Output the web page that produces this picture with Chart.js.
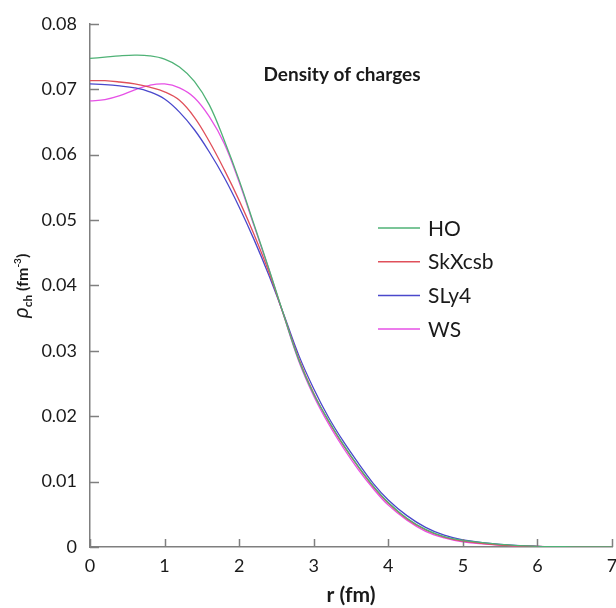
<!DOCTYPE html>
<html>
<head>
<meta charset="utf-8">
<script src="https://cdn.jsdelivr.net/npm/chart.js@4.4.1/dist/chart.umd.min.js"></script>
<style>
  html, body { margin: 0; padding: 0; background: #fff; overflow: hidden; }
  #chart { display: block; }
</style>
</head>
<body>
<canvas id="chart" width="616" height="608"></canvas>
<script>
// radius (fm)
const rValues = [0, 0.2, 0.4, 0.6, 0.8, 1.0, 1.2, 1.4, 1.6, 1.8, 2.0, 2.2, 2.4, 2.6, 2.8, 3.0,
  3.2, 3.4, 3.6, 3.8, 4.0, 4.25, 4.5, 4.75, 5.0, 5.5, 6.0, 6.5, 7.0];

// charge density (fm^-3)
const hoValues = [0.0747, 0.0749, 0.0751, 0.0752, 0.0751, 0.0746, 0.0734, 0.0712, 0.0676, 0.0622,
  0.0561, 0.0493, 0.0425, 0.0354, 0.0286, 0.0234, 0.0193, 0.0156, 0.0123, 0.0093,
  0.0068, 0.0044, 0.0027, 0.0016, 0.0010, 0.0004, 0.0001, 0.00003, 0.00001];
const skxValues = [0.0713, 0.0713, 0.0711, 0.0708, 0.0703, 0.0696, 0.0683, 0.0657, 0.0620, 0.0577,
  0.0530, 0.0478, 0.0420, 0.0354, 0.0288, 0.0235, 0.0192, 0.0155, 0.0122, 0.0092,
  0.0067, 0.0043, 0.0026, 0.0015, 0.0009, 0.0003, 0.0001, 0.00002, 0];
const slyValues = [0.0708, 0.0707, 0.0705, 0.0702, 0.0696, 0.0685, 0.0665, 0.0638, 0.0604, 0.0565,
  0.0520, 0.0470, 0.0415, 0.0355, 0.0293, 0.0242, 0.0198, 0.0161, 0.0128, 0.0097,
  0.0072, 0.0048, 0.0030, 0.0018, 0.0011, 0.0004, 0.0001, 0.00003, 0];
const wsValues = [0.0682, 0.0684, 0.0690, 0.0699, 0.0706, 0.0708, 0.0702, 0.0687, 0.0658, 0.0617,
  0.0558, 0.0491, 0.0424, 0.0353, 0.0284, 0.0231, 0.0188, 0.0151, 0.0118, 0.0089,
  0.0064, 0.0041, 0.0024, 0.0014, 0.0008, 0.0003, 0.0001, 0.00002, 0];

const seriesNames = ['HO', 'SkXcsb', 'SLy4', 'WS'];
const seriesColors = ['#4fb276', '#e0505a', '#4a48cc', '#e651e6'];
const xTicks = [0, 1, 2, 3, 4, 5, 6, 7];
const yTicks = [0, 0.01, 0.02, 0.03, 0.04, 0.05, 0.06, 0.07, 0.08];

const axisColor = '#7f7f7f';
const textColor = '#1a1a1a';
const fontFamily = 'Lato, "Open Sans", sans-serif';

function toPoints(values) {
  return rValues.map((r, i) => ({ x: r, y: values[i] }));
}

const allValues = [hoValues, skxValues, slyValues, wsValues];
const datasets = allValues.map((vals, i) => ({
  label: seriesNames[i],
  data: toPoints(vals),
  borderColor: seriesColors[i],
  borderWidth: 1.3,
  pointRadius: 0,
  fill: false,
  tension: 0.4
}));

// inward tick marks, title, legend and y axis label
const decorations = {
  id: 'decorations',
  afterDraw(chart) {
    const c = chart.ctx;
    const xs = chart.scales.x, ys = chart.scales.y;
    const area = chart.chartArea;

    c.save();
    c.strokeStyle = axisColor;
    c.lineWidth = 1.5;
    xTicks.forEach(v => {
      const px = Math.round(xs.getPixelForValue(v)) + 0.5;
      c.beginPath();
      c.moveTo(px, area.bottom);
      c.lineTo(px, area.bottom - 8);
      c.stroke();
    });
    yTicks.forEach(v => {
      const py = Math.round(ys.getPixelForValue(v)) + 0.5;
      c.beginPath();
      c.moveTo(area.left, py);
      c.lineTo(area.left + 9, py);
      c.stroke();
    });

    // title inside the plot
    c.fillStyle = textColor;
    c.font = 'bold 19px ' + fontFamily;
    c.textAlign = 'center';
    c.textBaseline = 'middle';
    c.fillText('Density of charges', 342, 75);

    // legend
    c.font = '21px ' + fontFamily;
    c.textAlign = 'left';
    chart.data.datasets.forEach((ds, i) => {
      const y = 228 + i * 33.7;
      c.strokeStyle = ds.borderColor;
      c.lineWidth = 1.5;
      c.beginPath();
      c.moveTo(378, y);
      c.lineTo(420, y);
      c.stroke();
      c.fillStyle = textColor;
      c.fillText(ds.label, 428, y + 1);
    });

    // y axis title: rho_ch (fm^-3)
    const parts = [
      { t: '\u03C1', f: 'italic 21px ' + fontFamily, dy: 0 },
      { t: 'ch', f: 'bold 12px ' + fontFamily, dy: 4 },
      { t: ' (fm', f: 'bold 16px ' + fontFamily, dy: 0 },
      { t: '-3', f: 'bold 10px ' + fontFamily, dy: -7 },
      { t: ')', f: 'bold 16px ' + fontFamily, dy: 0 }
    ];
    let total = 0;
    parts.forEach(p => { c.font = p.f; p.w = c.measureText(p.t).width; total += p.w; });
    c.translate(22, 286);
    c.rotate(-Math.PI / 2);
    c.textBaseline = 'alphabetic';
    c.fillStyle = textColor;
    let x = -total / 2;
    parts.forEach(p => {
      c.font = p.f;
      c.fillText(p.t, x, 6 + p.dy);
      x += p.w;
    });
    c.restore();
  }
};

new Chart(document.getElementById('chart'), {
  type: 'line',
  data: { datasets: datasets },
  options: {
    responsive: false,
    animation: false,
    layout: { padding: { top: 22, right: 4, left: 0, bottom: 0 } },
    plugins: {
      legend: { display: false },
      tooltip: { enabled: false }
    },
    scales: {
      x: {
        type: 'linear',
        min: 0,
        max: 7,
        afterFit(scale) { scale.height = 61; scale.paddingRight = 0; },
        ticks: {
          stepSize: 1,
          padding: 8,
          color: textColor,
          font: { family: fontFamily, size: 18 }
        },
        grid: { drawOnChartArea: false, drawTicks: false, color: axisColor },
        border: { color: axisColor, width: 1.5 },
        title: {
          display: true,
          text: 'r (fm)',
          color: textColor,
          padding: { top: 4, bottom: 0 },
          font: { family: fontFamily, size: 21, weight: 'bold' }
        }
      },
      y: {
        min: 0,
        max: 0.08,
        afterFit(scale) { scale.width = 90; },
        ticks: {
          stepSize: 0.01,
          padding: 13,
          color: textColor,
          font: { family: fontFamily, size: 18 },
          callback: v => (Math.abs(v) < 1e-9 ? '0' : v.toFixed(2))
        },
        grid: { drawOnChartArea: false, drawTicks: false, color: axisColor },
        border: { color: axisColor, width: 1.5 }
      }
    }
  },
  plugins: [decorations]
});
</script>
</body>
</html>
